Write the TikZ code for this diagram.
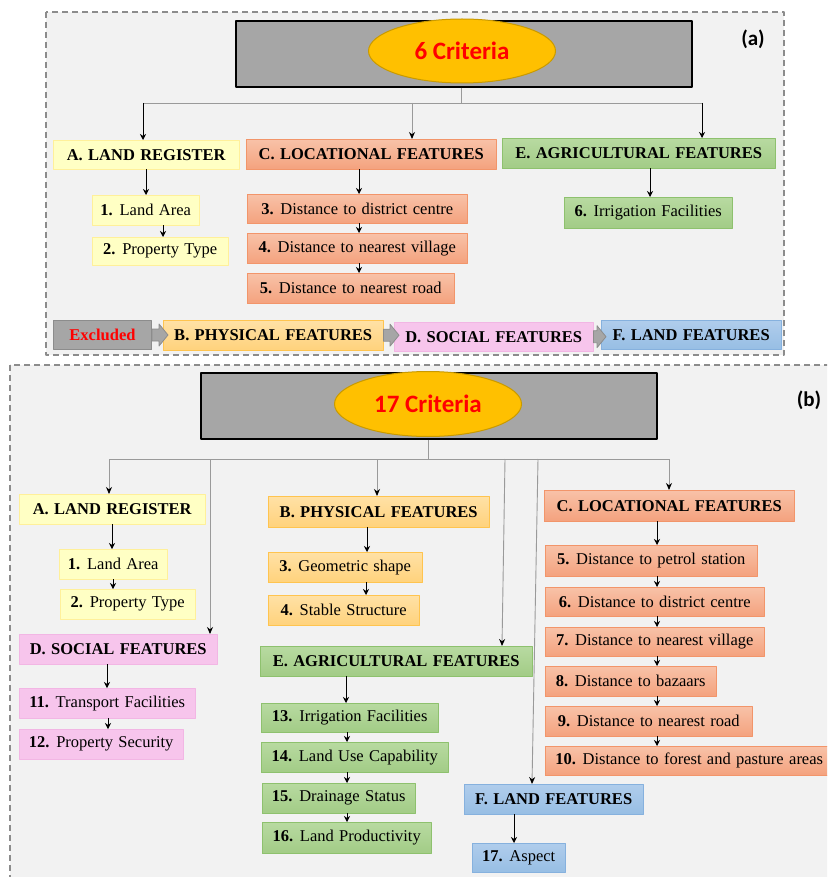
\documentclass[tikz,border=0pt]{standalone}
\usepackage{fontspec}
\setmainfont{Liberation Serif}[WordSpace=1.3]
\newfontfamily\calfont{Carlito}
\usetikzlibrary{shapes.geometric,arrows.meta,calc}
\definecolor{panelbg}{HTML}{F2F2F2}
\definecolor{framegray}{HTML}{8C8C8C}
\definecolor{boxgray}{HTML}{A6A6A6}
\definecolor{linegray}{HTML}{9A9A9A}
\definecolor{critfill}{HTML}{FFC000}
\definecolor{critdraw}{HTML}{C99A00}
\definecolor{lrfill}{HTML}{FFFFC4}
\definecolor{lrdraw}{HTML}{FFF09A}
\definecolor{loctop}{HTML}{F8C2A8}
\definecolor{locbot}{HTML}{F4A27E}
\definecolor{locdraw}{HTML}{F2956A}
\definecolor{agrtop}{HTML}{B8DAA1}
\definecolor{agrbot}{HTML}{A2CC86}
\definecolor{agrdraw}{HTML}{8EC16E}
\definecolor{phytop}{HTML}{FFE1A6}
\definecolor{phybot}{HTML}{FFD27C}
\definecolor{phydraw}{HTML}{FFC44F}
\definecolor{socfill}{HTML}{F7C5EC}
\definecolor{socdraw}{HTML}{F2B6E4}
\definecolor{lndtop}{HTML}{B0CDEC}
\definecolor{lndbot}{HTML}{97BEE4}
\definecolor{lnddraw}{HTML}{86B1DE}
\begin{document}
\begin{tikzpicture}[x=1pt,y=-1pt,line join=round,
	bx/.style={anchor=north west,inner sep=0pt,font=\fontsize{16.5}{19}\selectfont},
	lrbox/.style={bx,fill=lrfill,draw=lrdraw},
	locbox/.style={bx,top color=loctop,bottom color=locbot,draw=locdraw},
	agrbox/.style={bx,top color=agrtop,bottom color=agrbot,draw=agrdraw},
	phybox/.style={bx,top color=phytop,bottom color=phybot,draw=phydraw},
	socbox/.style={bx,fill=socfill,draw=socdraw},
	lndbox/.style={bx,top color=lndtop,bottom color=lndbot,draw=lnddraw},
	graybox/.style={fill=boxgray,draw=black,line width=1.5pt},
	crit/.style={ellipse,fill=critfill,draw=critdraw,line width=1pt,text=red,font=\calfont\bfseries\fontsize{25}{28}\selectfont},
	panel/.style={draw=framegray,fill=panelbg,line width=1.3pt,dash pattern=on 6pt off 4pt},
	fatarr/.style={fill=boxgray,draw=framegray,line width=0.8pt},
	gl/.style={draw=linegray,line width=0.9pt},
	ga/.style={gl,-{Stealth[length=7pt,width=6pt,color=black]}},
	ba/.style={draw=black,line width=0.6pt,-{Stealth[length=6pt,width=6pt]}}]
\useasboundingbox (0,0) rectangle (827,877);
\clip (0,0) rectangle (827,877);
\fill[white] (0,0) rectangle (827,877);
% panels
\draw[panel] (46,12) rectangle (784,355);
\draw[panel] (10,365) rectangle (840,895);
% (a) 6 criteria
\node[graybox,minimum width=456pt,minimum height=66pt] (topa) at (464,54) {};
\node[crit,minimum width=187pt,minimum height=64pt] (crita) at (462,51) {6 Criteria};
\node[font=\calfont\bfseries\fontsize{21}{24}\selectfont] (lbla) at (753,39) {(a)};
% (b) 17 criteria
\node[graybox,minimum width=456pt,minimum height=66pt] (topb) at (429,406) {};
\node[crit,minimum width=187pt,minimum height=65pt] (critb) at (428,404) {17 Criteria};
\node[font=\calfont\bfseries\fontsize{21}{24}\selectfont] (lblb) at (809,400) {(b)};
% boxes
\foreach \n/\x/\y/\w/\h/\t in {aA/53/140/186/29/{\bfseries A. LAND REGISTER},a1/92/195/107/30/{\textbf{1.} Land Area},a2/92/237/136/28/{\textbf{2.} Property Type},
	bA/19/494/186/30/{\bfseries A. LAND REGISTER},b1/59/549/108/30/{\textbf{1.} Land Area},b2/60/589/135/30/{\textbf{2.} Property Type}}
	\node[lrbox,minimum width=\w pt,minimum height=\h pt] (\n) at (\x,\y) {\t};
\foreach \n/\x/\y/\w/\h/\t in {aC/246/139/250/30/{\bfseries C. LOCATIONAL FEATURES},a3/247/194/220/29/{\textbf{3.} Distance to district centre},a4/247/233/220/30/{\textbf{4.} Distance to nearest village},a5/247/273/207/30/{\textbf{5.} Distance to nearest road},
	bC/544/490/250/31/{\bfseries C. LOCATIONAL FEATURES},b5/545/545/212/31/{\textbf{5.} Distance to petrol station},b6/545/587/219/29/{\textbf{6.} Distance to district centre},b7/545/627/219/29/{\textbf{7.} Distance to nearest village},b8/545/666/171/30/{\textbf{8.} Distance to bazaars},b9/545/706/207/30/{\textbf{9.} Distance to nearest road},b10/545/746/288/29/{\textbf{10.} Distance to forest and pasture areas}}
	\node[locbox,minimum width=\w pt,minimum height=\h pt] (\n) at (\x,\y) {\t};
\foreach \n/\x/\y/\w/\h/\t in {aE/502/138/273/30/{\bfseries E. AGRICULTURAL FEATURES},a6/564/197/168/31/{\textbf{6.} Irrigation Facilities},
	bE/260/646/272/30/{\bfseries E. AGRICULTURAL FEATURES},b13/261/703/177/29/{\textbf{13.} Irrigation Facilities},b14/261/742/187/30/{\textbf{14.} Land Use Capability},b15/262/783/153/30/{\textbf{15.} Drainage Status},b16/262/822/169/31/{\textbf{16.} Land Productivity}}
	\node[agrbox,minimum width=\w pt,minimum height=\h pt] (\n) at (\x,\y) {\t};
\foreach \n/\x/\y/\w/\h/\t in {aB/163/320/220/30/{\bfseries B. PHYSICAL FEATURES},bB/268/496/221/31/{\bfseries B. PHYSICAL FEATURES},b3/268/552/154/30/{\textbf{3.} Geometric shape},b4/268/595/151/30/{\textbf{4.} Stable Structure}}
	\node[phybox,minimum width=\w pt,minimum height=\h pt] (\n) at (\x,\y) {\t};
\foreach \n/\x/\y/\w/\h/\t in {aD/394/322/199/29/{\bfseries D. SOCIAL FEATURES},bD/19/634/198/30/{\bfseries D. SOCIAL FEATURES},b11/19/688/176/30/{\textbf{11.} Transport Facilities},b12/19/729/164/30/{\textbf{12.} Property Security}}
	\node[socbox,minimum width=\w pt,minimum height=\h pt] (\n) at (\x,\y) {\t};
\foreach \n/\x/\y/\w/\h/\t in {aF/601/320/180/29/{\bfseries F. LAND FEATURES},bF/464/784/179/30/{\bfseries F. LAND FEATURES},b17/472/843/93/29/{\textbf{17.} Aspect}}
	\node[lndbox,minimum width=\w pt,minimum height=\h pt] (\n) at (\x,\y) {\t};
\node[bx,fill=boxgray,draw=framegray,line width=1pt,text=red,minimum width=98pt,minimum height=29pt] (excl) at (53,320) {\bfseries Excluded};
% excluded chain
\foreach \p/\q in {excl/aB,aB/aD,aD/aF}
	\filldraw[fatarr] ($(\p.east)+(0,-6)$) -- ($(\q.west|-\p.east)+(-4,-6)$) -- ($(\q.west|-\p.east)+(-4,-11)$) -- ($(\q.west|-\p.east)+(5,0)$)
	-- ($(\q.west|-\p.east)+(-4,11)$) -- ($(\q.west|-\p.east)+(-4,6)$) -- ($(\p.east)+(0,6)$) -- cycle;
% branches (a)
\path (461,103) coordinate (ja) (143,103) coordinate (ja1) (412,103) coordinate (ja2) (702,103) coordinate (ja3);
\draw[gl] (topa.south-|ja) -- (ja) (ja1) -- (ja3);
\draw[ba] (ja1) -- (ja1|-aA.north);
\draw[ga] (ja2) -- (ja2|-aC.north);
\draw[ba] (ja3) -- (ja3|-aE.north);
% branches (b)
\path (428,459) coordinate (jb) (109,459) coordinate (jb1) (210,459) coordinate (jb2) (377,459) coordinate (jb3)
	(505,459) coordinate (jb4) (538,459) coordinate (jb5) (669,459) coordinate (jb6);
\draw[gl] (topb.south-|jb) -- (jb) (jb1) -- (jb6);
\draw[ga] (jb1) -- (jb1|-bA.north);
\draw[ga] (jb2) -- (jb2|-bD.north);
\draw[ga] (jb3) -- (jb3|-bB.north);
\draw[ga] (jb4) -- (bE.north-|502,0);
\draw[ga] (jb5) -- (bF.north-|532,0);
\draw[ga] (jb6) -- (jb6|-bC.north);
% chains
\foreach \p/\q/\x in {aA/a1/146,a1/a2/163,aC/a3/359,a3/a4/359,a4/a5/359,aE/a6/650,
	bA/b1/112,b1/b2/113,bD/b11/107,b11/b12/108,bB/b3/367,b3/b4/366,bE/b13/346,b13/b14/347,b14/b15/347,b15/b16/347,
	bC/b5/657,b5/b6/657,b6/b7/657,b7/b8/657,b8/b9/657,b9/b10/657,bF/b17/514}
	\draw[ba] (\p.south-|\x,0) -- (\q.north-|\x,0);
\end{tikzpicture}
\end{document}
